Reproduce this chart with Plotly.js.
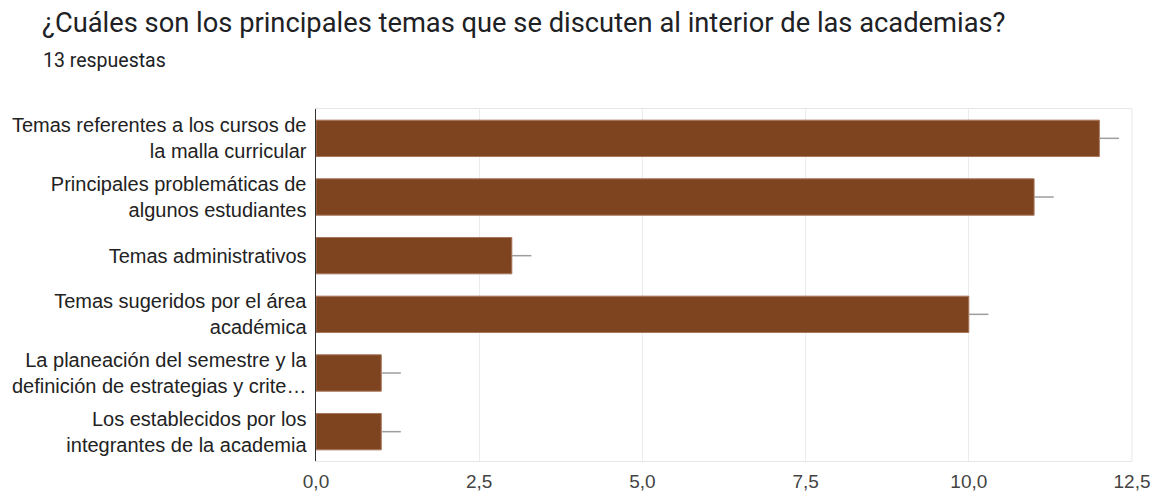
<!DOCTYPE html>
<html><head><meta charset="utf-8">
<script src="https://cdn.plot.ly/plotly-3.0.1.min.js"></script>
<style>body{margin:0;background:#fff}#c{width:1153px;height:491px}</style>
</head><body><div id="c"></div>
<script>
const categories = [
  "Temas referentes a los cursos de<br>la malla curricular",
  "Principales problemáticas de<br>algunos estudiantes",
  "Temas administrativos",
  "Temas sugeridos por el área<br>académica",
  "La planeación del semestre y la<br>definición de estrategias y crite…",
  "Los establecidos por los<br>integrantes de la academia"
];
const counts = [12, 11, 3, 10, 1, 1];
const errPlus = [0.3, 0.3, 0.3, 0.3, 0.3, 0.3];
const xTicks = [0, 2.5, 5, 7.5, 10, 12.5];

const pw = 1153 - 316 - 21, ph = 491 - 109 - 30;

Plotly.newPlot('c', [{
  type: 'bar', orientation: 'h',
  x: counts, y: categories,
  width: 0.62,
  marker: {color: '#7e4420', line: {color: '#a8765a', width: 1}},
  error_x: {type: 'data', symmetric: false, array: errPlus, arrayminus: counts.map(()=>0), color: '#9e9e9e', thickness: 1.5, width: 0},
  hoverinfo: 'none'
}], {
  width: 1153, height: 491,
  margin: {l: 316, r: 21, t: 109, b: 30},
  paper_bgcolor: '#fff', plot_bgcolor: '#fff',
  separators: ',.',
  showlegend: false,
  xaxis: {
    range: [0, 12.5], tickvals: xTicks, tickformat: '.1f',
    showgrid: true, gridcolor: '#ebebeb', gridwidth: 1,
    zeroline: false, showline: true, mirror: true, linecolor: '#e6e6e6', linewidth: 1,
    ticks: '', ticklabelstandoff: 3,
    tickfont: {family: 'Liberation Sans, Arial, sans-serif', size: 19, color: '#444'}
  },
  yaxis: {
    autorange: 'reversed', showgrid: false, zeroline: false,
    showline: true, linecolor: '#333', linewidth: 1.5,
    ticks: '', ticklabelstandoff: 4,
    tickfont: {family: 'Liberation Sans, Arial, sans-serif', size: 20, color: '#222'}
  },
  shapes: [{type: 'line', xref: 'paper', yref: 'paper', x0: 1, x1: 1, y0: 0, y1: 1, line: {color: '#e6e6e6', width: 1}, layer: 'below'}],
  annotations: [
    {text: '¿Cuáles son los principales temas que se discuten al interior de las academias?', xref: 'paper', yref: 'paper',
     x: (40 - 316) / pw, y: (461 - 23) / ph, showarrow: false,
     xanchor: 'left', yanchor: 'middle', font: {family: 'Roboto, sans-serif', size: 27.3, color: '#202124'}},
    {text: '13 respuestas', xref: 'paper', yref: 'paper', x: (41 - 316) / pw, y: (461 - 61) / ph, showarrow: false, xanchor: 'left', yanchor: 'middle',
     font: {family: 'Roboto, sans-serif', size: 19.5, color: '#202124'}}
  ]
}, {staticPlot: true});
</script></body></html>
